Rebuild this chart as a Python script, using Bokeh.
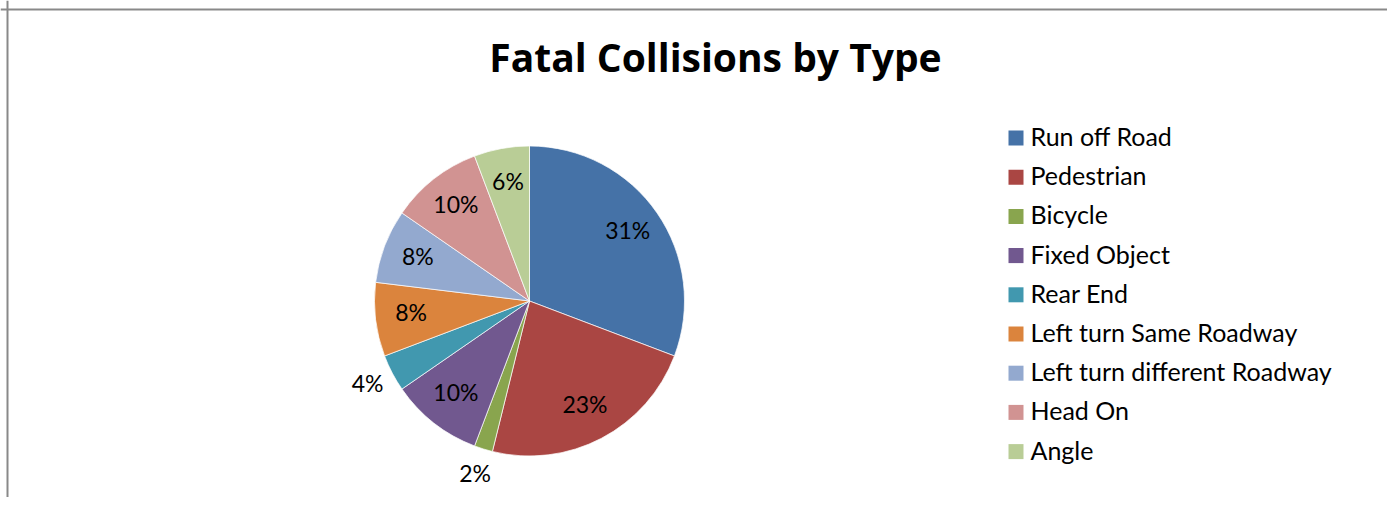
import math
from bokeh.plotting import figure
from bokeh.models import Range1d, Span, Label, ColumnDataSource
from bokeh.core.properties import value
from bokeh.embed import file_html
from bokeh.resources import INLINE

# ---- data ----
categories = ["Run off Road", "Pedestrian", "Bicycle", "Fixed Object", "Rear End",
              "Left turn Same Roadway", "Left turn different Roadway", "Head On", "Angle"]
counts = [16, 12, 1, 5, 2, 4, 4, 5, 3]
colors = ["#4572A7", "#AA4643", "#89A54E", "#71588F", "#4198AF",
          "#DB843D", "#93A9CF", "#D19392", "#B9CD96"]
title_text = "Fatal Collisions by Type"

FONT = "Lato"
TFONT = "Open Sans"
W, H = 1387, 497

def ypix(y):
    return H - y

p = figure(width=W, height=H, x_range=Range1d(0, W), y_range=Range1d(0, H),
           output_backend="svg", toolbar_location=None, min_border=0)
p.axis.visible = False
p.grid.visible = False
p.outline_line_color = None
p.background_fill_color = "white"
p.border_fill_color = "white"

# border (top and left, the rest is cut off)
p.add_layout(Span(location=7, dimension="height", line_color="#898989", line_width=2))
p.add_layout(Span(location=ypix(9), dimension="width", line_color="#898989", line_width=2))

# ---- pie ----
cx, cy, R = 529, ypix(300.5), 155
total = sum(counts)
starts, ends, mids = [], [], []
cum = 0
for v in counts:
    starts.append(math.pi / 2 - 2 * math.pi * cum / total)
    mids.append(math.pi / 2 - 2 * math.pi * (cum + v / 2) / total)
    cum += v
    ends.append(math.pi / 2 - 2 * math.pi * cum / total)

src = ColumnDataSource(dict(start=starts, end=ends, color=colors, cat=categories))
p.wedge(x=cx, y=cy, radius=R, start_angle="start", end_angle="end", direction="clock",
        fill_color="color", line_color="white", line_width=0.7, source=src)

# percentage labels
LFS = 23
pcts = [f"{round(v / total * 100)}%" for v in counts]
lx, ly = [], []
for v, a in zip(counts, mids):
    r = R * (1.18 if v / total < 0.05 else 0.77)
    lx.append(cx + r * math.cos(a))
    ly.append(cy + r * math.sin(a) + 3)
p.text(x=lx, y=ly, text=pcts, text_font=value(FONT), text_font_size=f"{LFS}px",
       text_align="center", text_baseline="middle", text_color="black")

# ---- legend ----
GFS = 25
row0, pitch = 137.5, 39.2
sq_y = [ypix(row0 + pitch * i) for i in range(len(categories))]
p.scatter(x=[1015.5] * len(categories), y=sq_y, marker="square", size=15,
          fill_color=colors, line_color=None)
p.text(x=[1030] * len(categories), y=[y + 2 for y in sq_y], text=categories,
       text_font=value(FONT), text_font_size=f"{GFS}px", text_align="left",
       text_baseline="middle", text_color="black")

# ---- title ----
p.add_layout(Label(x=715, y=ypix(56), text=title_text, text_font=TFONT, text_font_size="39px",
                   text_font_style="bold", text_align="center", text_baseline="middle",
                   text_color="black"))

open("out.html", "w").write(file_html(p, INLINE))
